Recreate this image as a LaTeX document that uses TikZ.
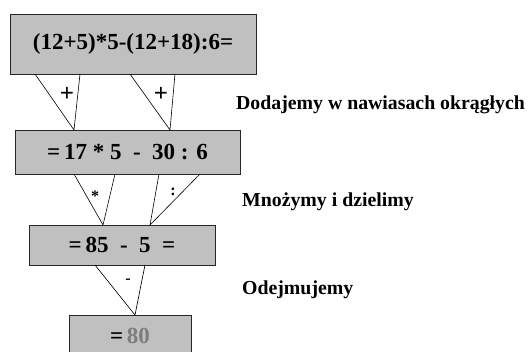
\documentclass[tikz,border=0pt]{standalone}
\usepackage{fontspec}
\setmainfont{Liberation Serif}
\definecolor{boxgray}{RGB}{192,192,192}
\definecolor{resgray}{RGB}{125,125,125}
\tikzset{
  calcbox/.style={draw=black!85, fill=boxgray, line width=0.7pt, inner sep=0pt,
    font=\fontsize{23}{26}\selectfont\bfseries},
  opline/.style={draw=black, line width=0.6pt},
  oplabel/.style={inner sep=0pt, font=\fontsize{25}{27}\selectfont\bfseries},
  smallop/.style={inner sep=0pt, font=\fontsize{16}{18}\selectfont\bfseries},
  steplabel/.style={anchor=west, inner sep=0pt, font=\fontsize{19.8}{22}\selectfont\bfseries}
}
\begin{document}
\begin{tikzpicture}[x=1pt, y=-1pt]
\useasboundingbox (0,0) rectangle (531,352);
\fill[white] (0,0) rectangle (531,352);
% boxes
\node[calcbox, minimum width=246pt, minimum height=60pt] (b1) at (133,44) {(12+5)*5-(12+18):6=};
\node[calcbox, minimum width=225pt, minimum height=44pt] (b2) at (127.5,152) {=\,17 * 5 \ - \ 30 : 6};
\node[calcbox, minimum width=186pt, minimum height=40pt] (b3) at (122,245) {=\,85 \ - \ 5 \ =};
\node[calcbox, minimum width=122pt, minimum height=42pt] (b4) at (130,336) {=\,\textcolor{resgray}{80}};
% connector points
\coordinate (a1) at (74,130);
\coordinate (a2) at (170,130);
\coordinate (a5) at (135,315);
\coordinate (s1) at (35,74);
\coordinate (s2) at (80,74);
\coordinate (s3) at (130,74);
\coordinate (s4) at (175,74);
\coordinate (s5) at (74,174);
\coordinate (s6) at (115,174);
\coordinate (s7) at (159,174);
\coordinate (s8) at (200,174);
\coordinate (s9) at (95,265);
\coordinate (s10) at (145,265);
\coordinate (p3) at (103,225);
\coordinate (p4) at (150,225);
% triangles
\draw[opline] (s1) -- (a1) -- (s2);
\draw[opline] (s3) -- (a2) -- (s4);
\draw[opline] (s5) -- (p3) -- (s6);
\draw[opline] (s7) -- (p4) -- (s8);
\draw[opline] (s9) -- (a5) -- (s10);
% operator labels
\node[oplabel] (o1) at (67,94) {+};
\node[oplabel] (o2) at (161,94) {+};
\node[smallop] (o3) at (95,196) {*};
\node[smallop] (o4) at (173,192) {:};
\node[smallop] (o5) at (128,281) {-};
% step labels
\node[steplabel] (l1) at (236,105) {Dodajemy w nawiasach okrągłych};
\node[steplabel] (l2) at (242,202) {Mnożymy i dzielimy};
\node[steplabel] (l3) at (242,290) {Odejmujemy};
\end{tikzpicture}
\end{document}
